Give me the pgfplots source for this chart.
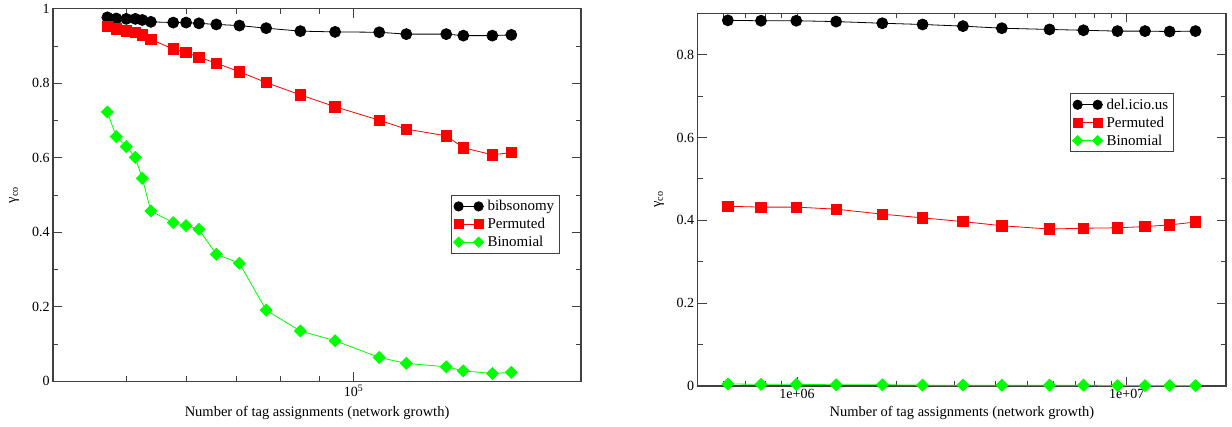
\documentclass[border=0pt]{standalone}
\usepackage{fontspec}
\setmainfont{Liberation Serif}
\usepackage{pgfplots}
\pgfplotsset{compat=1.18}
\definecolor{mygreen}{RGB}{0,255,0}
\definecolor{myred}{RGB}{255,0,0}
\tikzset{
 sblack/.style={black, line width=0.8pt, mark=*, mark size=5.5pt, mark options={solid, fill=black}},
 sred/.style={myred, line width=0.8pt, mark=square*, mark size=5.2pt, mark options={solid, fill=myred}},
 sgreen/.style={mygreen, line width=0.8pt, mark=square*, mark size=4.2pt, mark options={solid, rotate=45, fill=mygreen}},
}
\pgfplotsset{
  every axis/.append style={
  scale only axis, ymin=0,
  axis line style={black!75, line width=1.4pt},
  every tick/.style={black!75, line width=1pt},
  major tick length=9pt, minor tick length=5pt,
  tick align=inside,
  tick label style={font=\fontsize{14}{16}\selectfont, black},
  label style={font=\fontsize{14.5}{17}\selectfont},
  legend cell align=left,
  legend style={draw=black!75, line width=0.8pt, fill=white, font=\fontsize{15}{16}\selectfont,
    inner xsep=2pt, inner ysep=3.5pt, row sep=3pt, nodes={inner ysep=1.5pt, inner xsep=3.5pt}},
  clip=false,
  },
  every axis x label/.style={at={(axis description cs:0.5,0)}, anchor=base},
  every axis y label/.style={at={(axis description cs:0,0.5)}, rotate=90, anchor=center, font=\fontsize{16}{18}\selectfont},
  legend image code/.code={\path (-1pt,0pt) -- (25pt,0pt);
    \draw[#1, every mark/.append style={scale=0.85}] plot coordinates {(0pt,0pt) (20pt,0pt)};},
}
\begin{document}
\begin{tikzpicture}
\useasboundingbox (0,0) rectangle (1232pt,426pt);
% Left panel
\begin{axis}[xmode=log,
  at={(53pt,44.7pt)}, anchor=south west,
  width=528pt, height=372.5pt,
  xmin=4e4, xmax=2e5, ymax=1,
  xtick={1e5}, xticklabels={10\textsuperscript{5}},
  minor xtick={5e4,6e4,7e4,8e4,9e4},
  ytick={0,0.2,0.4,0.6,0.8,1}, yticklabels={0,0.2,0.4,0.6,0.8,1},
  minor ytick={0.1,0.3,0.5,0.7,0.9},
  xlabel={Number of tag assignments (network growth)},
  ylabel={γ\textsubscript{co}},
  xlabel style={yshift=-35.4pt},
  ylabel style={yshift=39pt},
  legend style={at={(0.754,0.5)}, anchor=north west},
]
\addplot[sblack] coordinates {
(47200,0.977) (48500,0.974) (50000,0.973) (51400,0.973) (52500,0.970) (53900,0.965)
(57700,0.963) (60000,0.963) (62400,0.961) (65800,0.958) (70600,0.955) (76600,0.948)
(85000,0.940) (94500,0.938) (108100,0.937) (117400,0.932) (132600,0.932) (139700,0.928)
(152600,0.928) (161700,0.930)};
\addlegendentry{bibsonomy}
\addplot[sred] coordinates {
(47200,0.952) (48500,0.946) (50000,0.941) (51400,0.937) (52500,0.930) (53900,0.918)
(57700,0.892) (60000,0.883) (62400,0.870) (65800,0.854) (70600,0.831) (76600,0.802)
(85000,0.769) (94500,0.737) (108100,0.701) (117400,0.677) (132600,0.659) (139700,0.627)
(152600,0.608) (161700,0.614)};
\addlegendentry{Permuted}
\addplot[sgreen] coordinates {
(47200,0.723) (48500,0.657) (50000,0.630) (51400,0.601) (52500,0.545) (53900,0.457)
(57700,0.426) (60000,0.418) (62400,0.408) (65800,0.341) (70600,0.317) (76600,0.191)
(85000,0.135) (94500,0.109) (108100,0.064) (117400,0.048) (132600,0.039) (139700,0.028)
(152600,0.021) (161700,0.024)};
\addlegendentry{Binomial}
\end{axis}
% Right panel
\begin{axis}[xmode=log,
  at={(697.7pt,40pt)}, anchor=south west,
  width=528.3pt, height=372.7pt,
  xmin=5e5, xmax=2e7, ymax=0.9,
  xtick={1e6,1e7}, xticklabels={1e+06,1e+07},
  minor xtick={6e5,7e5,8e5,9e5,2e6,3e6,4e6,5e6,6e6,7e6,8e6,9e6},
  ytick={0,0.2,0.4,0.6,0.8}, yticklabels={0,0.2,0.4,0.6,0.8},
  minor ytick={0.1,0.3,0.5,0.7},
  xlabel={Number of tag assignments (network growth)},
  ylabel={γ\textsubscript{co}},
  xlabel style={yshift=-30.7pt},
  ylabel style={yshift=38.7pt},
  legend style={at={(0.705,0.785)}, anchor=north west},
]
\addplot[sblack] coordinates {
(617000,0.883) (778000,0.882) (995000,0.882) (1314000,0.880) (1814000,0.876) (2403000,0.873)
(3186000,0.869) (4180000,0.864) (5830000,0.861) (7390000,0.859) (9370000,0.857) (11360000,0.857)
(13490000,0.856) (16160000,0.857)};
\addlegendentry{del.icio.us}
\addplot[sred] coordinates {
(617000,0.434) (778000,0.432) (995000,0.432) (1314000,0.427) (1814000,0.415) (2403000,0.406)
(3186000,0.397) (4180000,0.387) (5830000,0.379) (7390000,0.381) (9370000,0.382) (11360000,0.385)
(13490000,0.389) (16160000,0.396)};
\addlegendentry{Permuted}
\addplot[sgreen] coordinates {
(617000,0.005) (778000,0.004) (995000,0.004) (1314000,0.003) (1814000,0.003) (2403000,0.002)
(3186000,0.002) (4180000,0.002) (5830000,0.002) (7390000,0.002) (9370000,0.001) (11360000,0.001)
(13490000,0.001) (16160000,0.001)};
\addlegendentry{Binomial}
\end{axis}
\end{tikzpicture}
\end{document}
